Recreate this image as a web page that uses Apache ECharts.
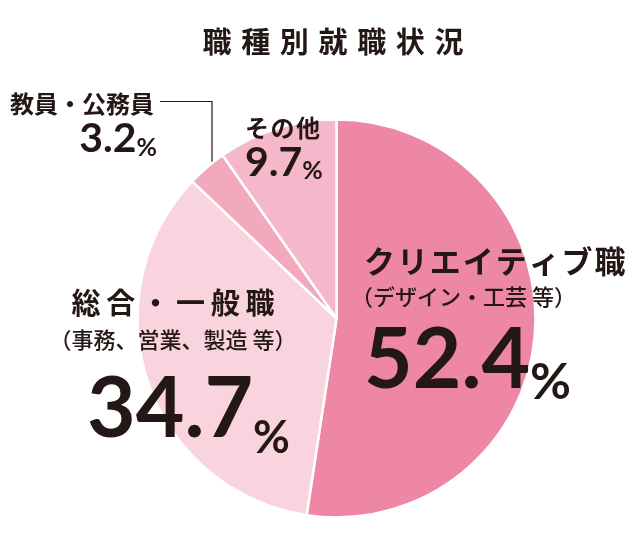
<!DOCTYPE html>
<html>
<head>
<meta charset="utf-8">
<script src="https://cdn.jsdelivr.net/npm/echarts@6/dist/echarts.min.js"></script>
<style>
html,body{margin:0;padding:0;background:#fff;}
#chart{width:641px;height:539px;}
</style>
</head>
<body>
<div id="chart"></div>
<script>
const titleText = '職\u2004種\u2004別\u2004就\u2004職\u2004状\u2004況';
const categories = ['クリエイティブ職', '総合・一般職', '教員・公務員', 'その他'];
const subLabels = ['（デザイン・工芸 等）', '（事務、営業、製造 等）', '', ''];
const values = [52.4, 34.7, 3.2, 9.7];
const colors = ['#ee86a6', '#f9d4df', '#f2a8bd', '#f5b8ca'];

const INK = '#231815';
const CJK = '"Noto Sans CJK JP", sans-serif';
const NUM = 'Lato, "Noto Sans", sans-serif';

function spaced(s, sp) { return s.split('').join(sp); }

const labelFormatter = function (p) {
  const i = p.dataIndex;
  const v = values[i].toFixed(1);
  if (i === 0) return '{n0|' + spaced(p.name, '\u200a') + '}\n{s0|' + subLabels[i] + '}\n{v0|' + v + '}{p0|%}';
  if (i === 1) return '{n1|' + spaced(p.name, '\u2009') + '}\n{s1|' + subLabels[i] + '}\n{v1|' + v + '}{p1|%}';
  if (i === 2) return '{n2|' + p.name + '}\n{v2|' + v + '}{p2|%}';
  return '{n3|' + spaced(p.name, '\u200a') + '}\n{v3|' + v + '}{p3|%}';
};

const rich = {
  n0: {fontFamily: CJK, fontSize: 31, fontWeight: 'bold', color: INK, lineHeight: 36, padding: [0, 0, 0, 13]},
  s0: {fontFamily: CJK, fontSize: 22, fontWeight: 500, color: INK, lineHeight: 35},
  v0: {fontFamily: NUM, fontSize: 84, fontWeight: 'bold', color: INK, lineHeight: 94, padding: [0, 0, 0, 13]},
  p0: {fontFamily: NUM, fontSize: 50, fontWeight: 'bold', color: INK, lineHeight: 66, verticalAlign: 'bottom'},
  n1: {fontFamily: CJK, fontSize: 29, fontWeight: 'bold', color: INK, lineHeight: 36},
  s1: {fontFamily: CJK, fontSize: 22, fontWeight: 500, color: INK, lineHeight: 39},
  v1: {fontFamily: NUM, fontSize: 84, fontWeight: 'bold', color: INK, lineHeight: 101, padding: [0, 0, 0, 31]},
  p1: {fontFamily: NUM, fontSize: 45, fontWeight: 'bold', color: INK, lineHeight: 73, verticalAlign: 'bottom'},
  n2: {fontFamily: CJK, fontSize: 24, fontWeight: 'bold', color: INK, lineHeight: 28, padding: [0, 3, 0, 0]},
  v2: {fontFamily: NUM, fontSize: 41, fontWeight: 'bold', color: INK, lineHeight: 42},
  p2: {fontFamily: NUM, fontSize: 25, fontWeight: 'bold', color: INK, lineHeight: 32, verticalAlign: 'bottom'},
  n3: {fontFamily: CJK, fontSize: 24, fontWeight: 'bold', color: INK, lineHeight: 28},
  v3: {fontFamily: NUM, fontSize: 41, fontWeight: 'bold', color: INK, lineHeight: 42},
  p3: {fontFamily: NUM, fontSize: 25, fontWeight: 'bold', color: INK, lineHeight: 31, verticalAlign: 'bottom'}
};

const labelPlacement = [
  {x: 351, y: 243, align: 'left', verticalAlign: 'top'},
  {x: 173, y: 284.5, align: 'center', verticalAlign: 'top'},
  {x: 157, y: 90, align: 'right', verticalAlign: 'top',
   labelLinePoints: [[212, 188], [212, 101.5], [160, 101.5]]},
  {x: 245, y: 113.5, align: 'left', verticalAlign: 'top'}
];

const chart = echarts.init(document.getElementById('chart'), null, {renderer: 'canvas'});
chart.setOption({
  animation: false,
  backgroundColor: '#ffffff',
  title: {
    text: titleText,
    left: 328,
    top: 22,
    textAlign: 'center',
    textStyle: {fontFamily: CJK, fontSize: 29, fontWeight: 'bold', color: INK}
  },
  series: [{
    type: 'pie',
    center: [336.5, 318.5],
    radius: 199,
    startAngle: 90,
    clockwise: true,
    avoidLabelOverlap: false,
    silent: true,
    emphasis: {disabled: true},
    itemStyle: {borderColor: '#ffffff', borderWidth: 2.5},
    label: {
      show: true,
      position: 'inside',
      overflow: 'none',
      formatter: labelFormatter,
      rich: rich
    },
    labelLine: {show: false},
    labelLayout: function (params) {
      return labelPlacement[params.dataIndex];
    },
    data: categories.map((name, i) => {
      const d = {name: name, value: values[i], itemStyle: {color: colors[i]}};
      if (i === 2) {
        d.label = {position: 'outside', overflow: 'none'};
        d.labelLine = {show: true, lineStyle: {color: INK, width: 1.2}};
      }
      return d;
    })
  }]
});
</script>
</body>
</html>
